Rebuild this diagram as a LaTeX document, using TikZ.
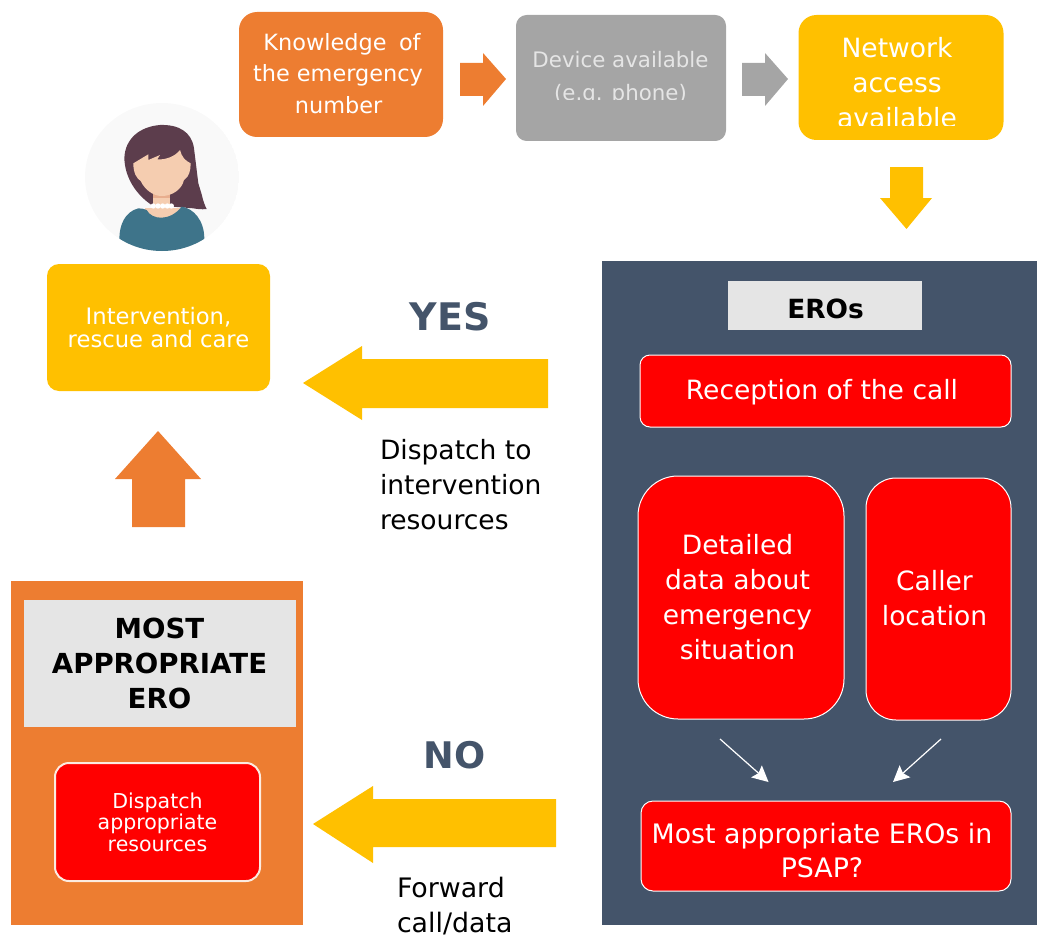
\documentclass[tikz,border=0pt]{standalone}
\usepackage{fontspec}
\setmainfont{DejaVu Sans}
\usetikzlibrary{arrows.meta}
\definecolor{eorange}{HTML}{ED7D31}
\definecolor{eyellow}{HTML}{FFC000}
\definecolor{egray}{HTML}{A5A5A5}
\definecolor{edark}{HTML}{44546A}
\definecolor{elight}{HTML}{E5E5E5}
\definecolor{ered}{HTML}{FF0000}
\definecolor{ehair}{HTML}{5C3D4C}
\definecolor{eskin}{HTML}{F5CDB0}
\definecolor{eshade}{HTML}{E8AE8E}
\definecolor{eshirt}{HTML}{3E748A}
\tikzset{
  sized/.style 2 args={minimum width=#1*0.75pt,minimum height=#2*0.75pt,inner sep=0pt,outer sep=0pt,align=center},
  txt/.style={inner sep=0pt,outer sep=0pt,align=center},
  txtl/.style={inner sep=0pt,outer sep=0pt,align=left,anchor=north west},
  redbox/.style={fill=ered,draw=white,line width=0.75pt},
  redtxt/.style={txt,text=white,font=\fontsize{19.9}{26.25}\selectfont},
  headtxt/.style={font=\bfseries\fontsize{28.5}{30}\selectfont,text=edark,inner sep=0pt},
  lightlab/.style={font=\bfseries\fontsize{20.6}{26}\selectfont,text=black,fill=elight},
  bodytxt/.style={font=\fontsize{19.9}{26.25}\selectfont,text=black},
  thinarrow/.style={draw=white,line width=0.9pt,-{Stealth[length=12pt,width=12pt,inset=2pt]}},
}
\begin{document}
\begin{tikzpicture}[x=0.75pt,y=-0.75pt]
\useasboundingbox (0,0) rectangle (1037,938);

% top row
\node[sized={204}{125},fill=eorange,rounded corners=13.5pt] (know) at (341,74.5) {};
\node[txt,text=white,font=\fontsize{16.8}{23.5}\selectfont] (knowt) at (340,73.5) {\hspace*{3pt}Knowledge\hspace{4pt} of\\\hspace*{-3pt}the emergency\\\hspace*{-2pt}number};
\node[sized={210}{126},fill=egray,rounded corners=8pt] (dev) at (621,78) {};
\node[txt,text=white!90!black,font=\fontsize{16}{24.5}\selectfont] (devt) at (620.5,78) {Device available\\(e.g. phone)};
\fill[egray] (550,100.5) rectangle (695,125);
\node[sized={205}{125},fill=eyellow,rounded corners=13.5pt] (net) at (901,77.5) {};
\node[txt,text=white,font=\fontsize{19.9}{26.25}\selectfont] (nett) at (897,82.5) {Network\\access\\available};
\fill[eyellow] (820,126.5) rectangle (980,139);

\fill[eorange] (460,63) -- (483,63) -- (483,53) -- (506,79) -- (483,106) -- (483,96) -- (460,96) -- cycle;
\fill[egray] (742,63) -- (765,63) -- (765,53) -- (788,79) -- (765,106) -- (765,96) -- (742,96) -- cycle;
\fill[eyellow] (890,167) -- (923,167) -- (923,198) -- (932,198) -- (906.5,229) -- (880,198) -- (890,198) -- cycle;

% person
\begin{scope}
\clip (162,177) ellipse [x radius=77,y radius=74];
\fill[black!2.5] (162,177) ellipse [x radius=77,y radius=74];
\begin{scope}[shift={(70,95)},x=0.25pt,y=-0.25pt]
\fill[ehair] (270,90) .. controls (325,88) and (365,110) .. (372,160) -- (385,265) -- (395,298) .. controls (400,320) and (405,332) .. (410,342) .. controls (395,344) and (380,342) .. (370,340) -- (245,330) .. controls (200,300) and (165,250) .. (163,190) .. controls (165,130) and (210,95) .. (270,90) -- cycle;
\fill[eshade] (250,285) rectangle (300,340);
\fill[eskin] (250,310) rectangle (300,340);
\fill[eskin] (190,205) .. controls (190,235) and (200,250) .. (212,258) .. controls (225,285) and (250,303) .. (275,303) .. controls (305,303) and (335,285) .. (342,255) .. controls (358,245) and (362,225) .. (362,205) .. controls (345,197) and (335,185) .. (330,165) .. controls (315,185) and (285,195) .. (262,193) -- (270,180) -- (235,195) -- (235,178) -- (190,205) -- cycle;
\fill[eskin] (225,338) rectangle (330,375);
\fill[eshirt] (148,432) .. controls (148,390) and (165,350) .. (205,340) .. controls (215,340) and (225,342) .. (230,345) .. controls (245,375) and (300,380) .. (335,335) .. controls (370,340) and (403,375) .. (403,432) -- (403,500) -- (148,500) -- cycle;
\foreach \dx in {250,264,278,292,304} \fill[white] (\dx,333) circle (8);
\end{scope}
\end{scope}

% intervention box
\node[sized={223}{127},fill=eyellow,rounded corners=9pt,text=white,font=\fontsize{17}{17.25}\selectfont] (interv) at (158.5,327.5) {Intervention,\\rescue and care};

% yes branch
\node[headtxt] (yes) at (450,317) {YES};
\fill[eyellow] (548,359) -- (362,359) -- (362,346) -- (303,383) -- (362,420) -- (362,408) -- (548,408) -- cycle;
\node[txtl,bodytxt] (disp) at (380,439) {Dispatch to\\intervention\\resources};

\fill[eorange] (132,527) -- (185,527) -- (185,479) -- (201,479) -- (158,431) -- (115,479) -- (132,479) -- cycle;

% most appropriate ERO panel
\node[sized={292}{344},fill=eorange] (panel) at (157,753) {};
\node[sized={272}{127},lightlab] (mostlab) at (160,663.5) {};
\node[txt,bodytxt,font=\bfseries\fontsize{20.7}{26}\selectfont] (mostt) at (159.5,663.5) {MOST\\APPROPRIATE\\ERO};
\node[sized={205}{118},fill=ered,draw=white!85!eorange,line width=1.5pt,rounded corners=10.5pt,text=white,font=\fontsize{15.4}{16.1}\selectfont] (dispres) at (157.5,822) {Dispatch\\appropriate\\resources};

% no branch
\node[headtxt,font=\bfseries\fontsize{27.5}{30}\selectfont] (no) at (454.5,755) {NO};
\fill[eyellow] (556,799) -- (373,799) -- (373,786) -- (313,824) -- (373,863) -- (373,847) -- (556,847) -- cycle;
\node[txtl,bodytxt,font=\fontsize{20.1}{26.25}\selectfont] (fwd) at (397,877) {Forward\\call/data};

% EROs panel
\node[sized={435}{664},fill=edark] (eros) at (819.5,593) {};
\node[sized={194}{49},fill=elight] (eroslab) at (825,305.5) {};
\node[txt,font=\bfseries\fontsize{19.8}{24}\selectfont] (erost) at (825.5,309) {EROs};
\node[sized={371}{72},redbox,rounded corners=7.5pt] (recv) at (825.5,391) {};
\node[redtxt] (recvt) at (822,392) {Reception of the call};
\node[sized={206}{243},redbox,rounded corners=30pt] (detail) at (741,597.5) {};
\node[redtxt] (detailt) at (737.5,597.5) {Detailed\\data about\\emergency\\situation};
\node[sized={145}{242},redbox,rounded corners=22.5pt] (caller) at (938.5,599) {};
\node[redtxt] (callert) at (934.5,598.5) {Caller\\location};
\node[sized={370}{90},redbox,rounded corners=9pt] (most) at (826,846) {};
\node[redtxt,font=\fontsize{20.1}{26}\selectfont] (mostqt) at (822,850.5) {Most appropriate EROs in\\PSAP?};

\coordinate (a1) at (720,739);
\coordinate (a2) at (768.5,782);
\coordinate (b1) at (941,739);
\coordinate (b2) at (893,782);
\draw[thinarrow] (a1) -- (a2);
\draw[thinarrow] (b1) -- (b2);
\end{tikzpicture}
\end{document}
